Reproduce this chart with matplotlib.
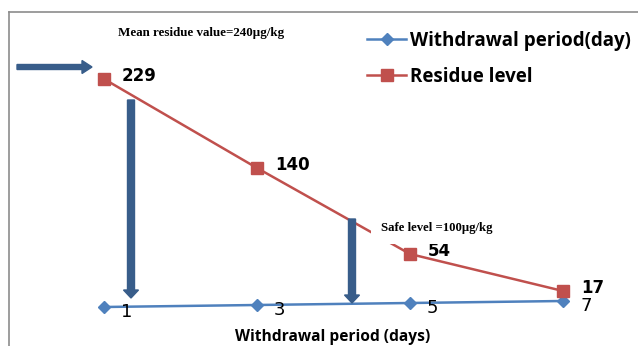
import matplotlib
matplotlib.use('Agg')
import matplotlib.pyplot as plt
from matplotlib.patches import FancyArrow

# chart data
days = [1, 3, 5, 7]
residue = [229, 140, 54, 17]
xpos = [1, 2, 3, 4]

plt.rcParams['font.family'] = ['Open Sans', 'DejaVu Sans']

W, H = 638, 346
fig = plt.figure(figsize=(W / 100, H / 100), dpi=100)
ax = fig.add_axes([9 / W, 0, (W - 9) / W, (H - 12) / H])
ax.set_xlim(0.379, 4.49)
ax.set_ylim(-38, 296)
ax.set_xticks([])
ax.set_yticks([])
for s in ['right', 'bottom']:
    ax.spines[s].set_visible(False)
for s in ['left', 'top']:
    ax.spines[s].set_color('#8c8c8c')
    ax.spines[s].set_linewidth(1.2)

blue = '#4f81bd'
red = '#c0504d'
arrowc = '#385d8a'

l1, = ax.plot(xpos, days, color=blue, lw=1.8, marker='D', ms=6.5,
              label='Withdrawal period(day)', zorder=3)
l2, = ax.plot(xpos, residue, color=red, lw=1.8, marker='s', ms=8.5,
              label='Residue level', zorder=3)

for x, v in zip(xpos, residue):
    ax.annotate(str(v), (x, v), xytext=(18, 3), textcoords='offset pixels',
                ha='left', va='center', fontsize=12, fontweight='bold',
                family='DejaVu Sans', zorder=5)
for x, v in zip(xpos, days):
    ax.annotate(str(v), (x, v), xytext=(17, -5), textcoords='offset pixels',
                ha='left', va='center', fontsize=13, family='DejaVu Sans', zorder=5)

leg = ax.legend(handles=[l1, l2], loc='upper left',
                bbox_to_anchor=(367 / W, 1 - 31 / H), bbox_transform=fig.transFigure,
                frameon=False, borderpad=0, borderaxespad=0, handlelength=2.1,
                handletextpad=0.2, labelspacing=0.85,
                prop={'weight': 'bold', 'size': 13.5})


def px(x, y):
    return x / 100, (H - y) / 100


serif = ['Liberation Serif', 'DejaVu Serif']
fig.text(*px(118, 33), 'Mean residue value=240µg/kg', transform=fig.dpi_scale_trans,
         family=serif, fontweight='bold', fontsize=9.4, ha='left', va='center')
fig.text(*px(381, 228), 'Safe level =100µg/kg', transform=fig.dpi_scale_trans,
         family=serif, fontweight='bold', fontsize=9.2, ha='left', va='center',
         bbox=dict(facecolor='white', edgecolor='none', pad=7), zorder=10)

fig.text(*px(333, 337), 'Withdrawal period (days)', transform=fig.dpi_scale_trans,
         fontsize=11.2, fontweight='bold', ha='center', va='center')

# arrows: start (x, y) and length in pixels from the top-left corner
arrows = [
    (17, 67, 75, 0, 0.05, 0.13, 0.10),
    (131, 100, 0, 198, 0.07, 0.15, 0.08),
    (352, 219, 0, 84, 0.07, 0.15, 0.08),
]
for x0, y0, dx, dy, w, hw, hl in arrows:
    x, y = px(x0, y0)
    a = FancyArrow(x, y, dx / 100, -dy / 100, width=w, head_width=hw,
                   head_length=hl, length_includes_head=True,
                   transform=fig.dpi_scale_trans, color=arrowc, zorder=6)
    fig.add_artist(a)

fig.savefig('out.png', dpi=100)
